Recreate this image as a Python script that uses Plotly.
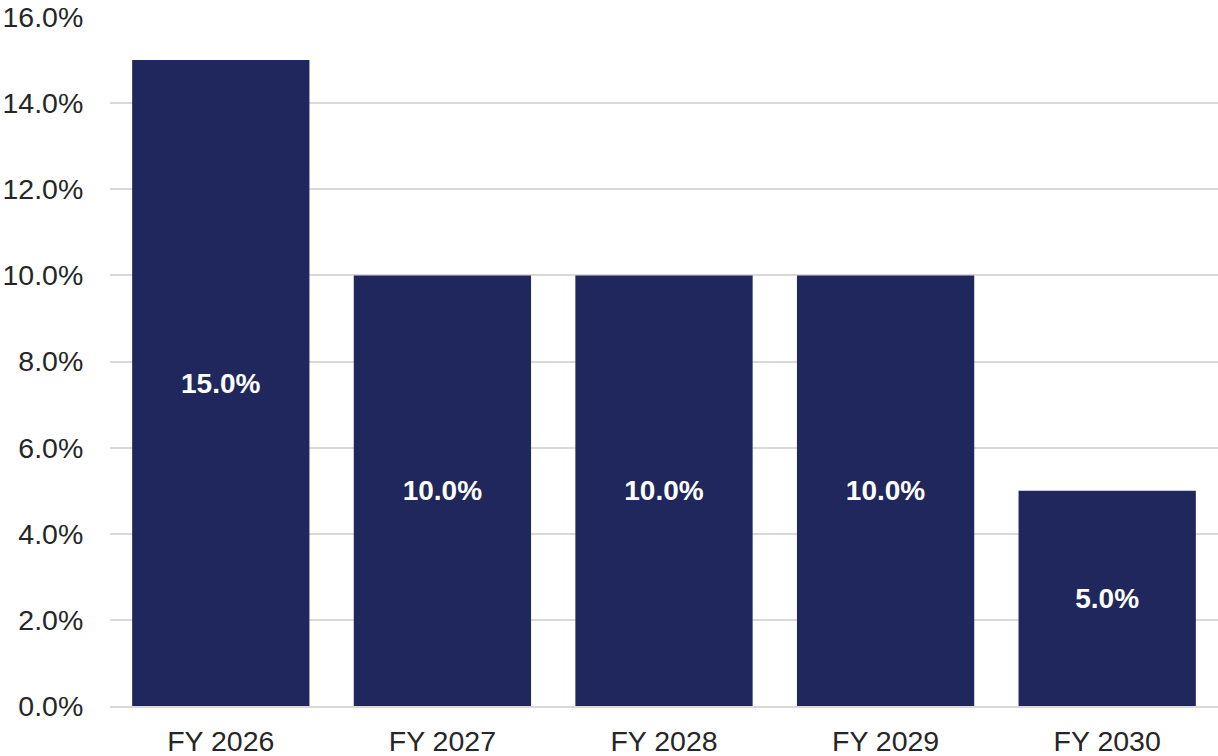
import plotly.graph_objects as go

categories = ["FY 2026", "FY 2027", "FY 2028", "FY 2029", "FY 2030"]
values = [15.0, 10.0, 10.0, 10.0, 5.0]
tick_vals = [0, 2, 4, 6, 8, 10, 12, 14, 16]
tick_text = [f"{v:.1f}%" for v in tick_vals]

fig = go.Figure(
    go.Bar(
        x=categories,
        y=values,
        marker=dict(color="#1F275C", line=dict(width=0)),
        text=[f"{v:.1f}%" for v in values],
        textposition="inside",
        insidetextanchor="middle",
        textangle=0,
        textfont=dict(family="Liberation Sans, Arial, sans-serif", size=28, color="white", weight="bold"),
        width=0.8,
    )
)

fig.update_layout(
    width=1218,
    height=756,
    margin=dict(l=110, r=0, t=17, b=50),
    paper_bgcolor="white",
    plot_bgcolor="white",
    showlegend=False,
    font=dict(family="Liberation Sans, Arial, sans-serif", size=28.5, color="#262626"),
    uniformtext=dict(mode=False),
)
fig.update_yaxes(
    range=[0, 16],
    tickvals=tick_vals,
    ticktext=tick_text,
    showgrid=True,
    gridcolor="#D9D9D9",
    gridwidth=2,
    zeroline=False,
    showline=False,
    ticks="outside",
    ticklen=20,
    tickcolor="rgba(0,0,0,0)",
    automargin=False,
    fixedrange=True,
)
fig.update_xaxes(
    showline=True,
    linecolor="#D9D9D9",
    linewidth=2,
    ticks="outside",
    ticklen=9,
    tickcolor="rgba(0,0,0,0)",
    showgrid=False,
    automargin=False,
)

fig.write_html(
    "out.html",
    config={"displayModeBar": False},
    post_script="document.body.style.margin='0';document.body.style.overflow='hidden';",
)
